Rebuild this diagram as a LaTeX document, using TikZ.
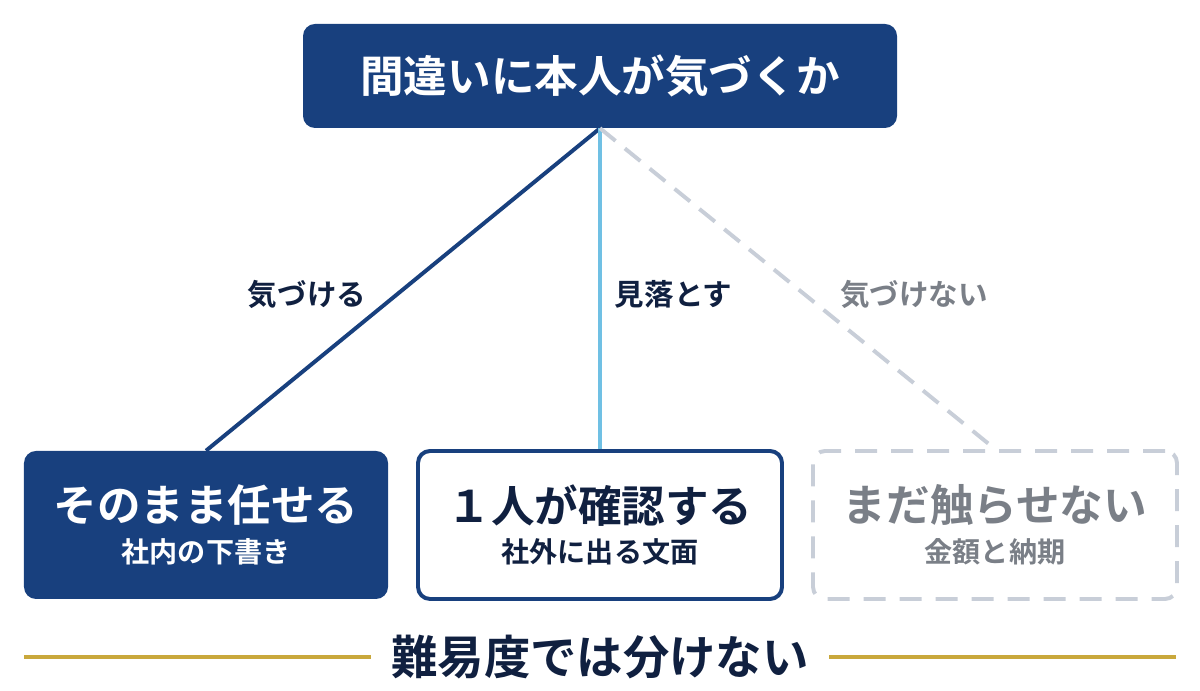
\documentclass[tikz,border=0pt]{standalone}
\usepackage{fontspec}
\setmainfont{Noto Sans CJK JP}[BoldFont={Noto Sans CJK JP Bold}]
\definecolor{kdnavy}{RGB}{24,64,126}
\definecolor{kdink}{RGB}{16,32,64}
\definecolor{kdsky}{RGB}{112,192,228}
\definecolor{kdmist}{RGB}{200,206,216}
\definecolor{kdgrey}{RGB}{122,127,135}
\definecolor{kdgold}{RGB}{201,168,60}
\usetikzlibrary{arrows.meta,positioning}

\begin{document}
\begin{tikzpicture}[
  card/.style={rounded corners=0.3cm,minimum width=9.1cm,minimum height=3.7cm,
    align=center,inner sep=0pt},
  branch/.style={line width=2.8pt},
  tag/.style={font=\fontsize{21pt}{25pt}\selectfont\bfseries}
]
  \useasboundingbox (0,0) rectangle (30,17.275);
  \node[card,fill=kdnavy,minimum width=14.85cm,minimum height=2.6cm,text=white,
    font=\fontsize{31pt}{36pt}\selectfont\bfseries] (q) at (15,15.375) {間違いに本人が気づくか};
  \node[card,fill=kdnavy,text=white] (a) at (5.15,4.15)
    {{\fontsize{31pt}{36pt}\selectfont\bfseries そのまま任せる}\\[8pt]
     {\fontsize{20pt}{24pt}\selectfont\bfseries 社内の下書き}};
  \node[card,fill=white,draw=kdnavy,line width=2.8pt,text=kdink] (b) at (15,4.15)
    {{\fontsize{31pt}{36pt}\selectfont\bfseries １人が確認する}\\[8pt]
     {\fontsize{20pt}{24pt}\selectfont\bfseries 社外に出る文面}};
  \node[card,fill=white,draw=kdmist,line width=2.8pt,dash pattern=on 0.55cm off 0.35cm,
    text=kdgrey] (c) at (24.875,4.15)
    {{\fontsize{31pt}{36pt}\selectfont\bfseries まだ触らせない}\\[8pt]
     {\fontsize{20pt}{24pt}\selectfont\bfseries 金額と納期}};
  % Branches
  \draw[branch,kdnavy] (q.south) -- (a.north);
  \draw[branch,kdsky] (q.south) -- (b.north);
  \draw[branch,kdmist,dash pattern=on 0.5cm off 0.3cm] (q.south) -- (c.north);
  \node[tag,text=kdink] (yes) at (7.675,9.925) {気づける};
  \node[tag,text=kdink,anchor=west] (miss) at (15.25,9.925) {見落とす};
  \node[tag,text=kdgrey] (no) at (22.85,9.925) {気づけない};
  % Footer
  \node[font=\fontsize{33pt}{38pt}\selectfont\bfseries,text=kdink,inner xsep=0.5cm] (note) at (15,0.85) {難易度では分けない};
  \coordinate (ruleL) at (0.6,0.85);
  \coordinate (ruleR) at (29.4,0.85);
  \draw[kdgold,line width=2.8pt] (ruleL) -- (note);
  \draw[kdgold,line width=2.8pt] (ruleR) -- (note);
\end{tikzpicture}
\end{document}
